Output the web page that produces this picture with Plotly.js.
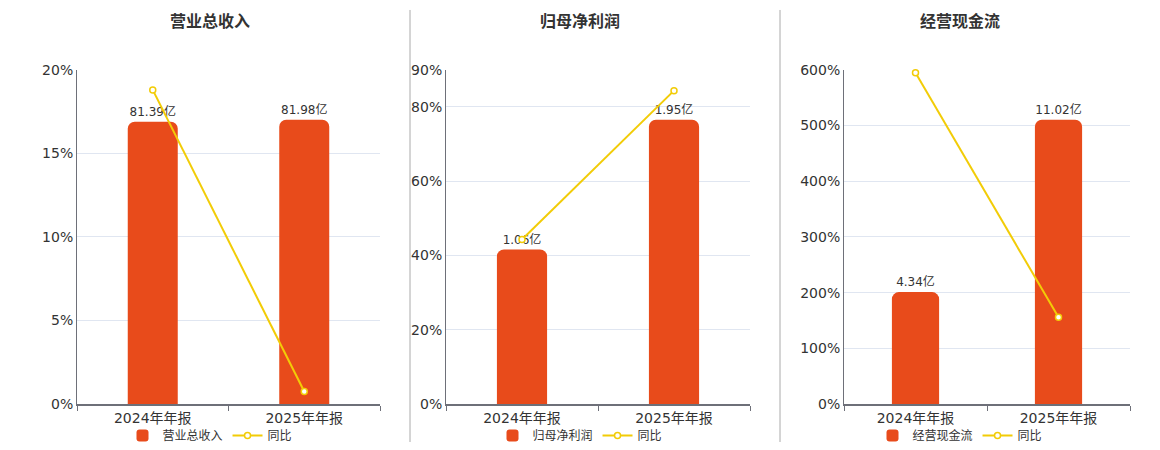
<!DOCTYPE html>
<html>
<head>
<meta charset="utf-8">
<script src="https://cdn.plot.ly/plotly-3.0.1.min.js"></script>
<style>
  html, body { margin: 0; padding: 0; background: #fff; }
  #chart { width: 1160px; height: 450px; }
</style>
</head>
<body>
<div id="chart"></div>
<script>
// categories and values
var periods = ['2024年年报', '2025年年报'];

var titles = ['营业总收入', '归母净利润', '经营现金流'];

var revenue = [81.39, 81.98];      // 亿
var netProfit = [1.06, 1.95];      // 亿
var cashFlow = [4.34, 11.02];      // 亿

var revenueYoY = [18.8, 0.75];     // %
var netProfitYoY = [44.3, 84.4];   // %
var cashFlowYoY = [594.6, 155.8];  // %

var pctTicks1 = [0, 5, 10, 15, 20];
var pctTicks2 = [0, 20, 40, 60, 80, 90];
var pctTicks3 = [0, 100, 200, 300, 400, 500, 600];

var barColor = '#e84b1b';
var lineColor = '#f2cc07';
var font = 'DejaVu Sans, Noto Sans CJK SC, sans-serif';

var W = 1160, H = 450;

var panels = [
  {bars: revenue, yoy: revenueYoY, ticks: pctTicks1, x: [77, 380], mid: 210},
  {bars: netProfit, yoy: netProfitYoY, ticks: pctTicks2, x: [446, 750], mid: 580},
  {bars: cashFlow, yoy: cashFlowYoY, ticks: pctTicks3, x: [844, 1130], mid: 960}
];

var data = [];
var layout = {
  width: W, height: H,
  margin: {l: 0, r: 0, t: 0, b: 0},
  paper_bgcolor: '#fff',
  plot_bgcolor: 'rgba(0,0,0,0)',
  font: {family: font, color: '#333'},
  showlegend: true,
  hovermode: false,
  annotations: [],
  shapes: []
};

var yDom = [45 / H, 380 / H];

panels.forEach(function (p, i) {
  var n = i + 1;
  var xa = n === 1 ? 'x' : 'x' + n;
  var yBar = 'y' + (2 * i + 1 === 1 ? '' : 2 * i + 1);
  var yPct = 'y' + (2 * i + 2);
  var legendId = n === 1 ? 'legend' : 'legend' + n;

  data.push({
    type: 'bar',
    name: titles[i],
    x: periods,
    y: p.bars,
    xaxis: xa,
    yaxis: yBar,
    legend: legendId,
    width: 0.33,
    marker: {color: barColor, cornerradius: 7},
    text: p.bars.map(function (v) { return v.toFixed(2) + '亿'; }),
    textposition: 'outside',
    textfont: {size: 12, color: '#333', family: font},
    cliponaxis: false
  });

  data.push({
    type: 'scatter',
    mode: 'lines+markers',
    name: '同比',
    x: periods,
    y: p.yoy,
    xaxis: xa,
    yaxis: yPct,
    legend: legendId,
    line: {color: lineColor, width: 2},
    marker: {size: 6, color: '#fff', line: {color: lineColor, width: 1.5}},
    cliponaxis: false
  });

  var maxBar = Math.max.apply(null, p.bars);
  var xKey = n === 1 ? 'xaxis' : 'xaxis' + n;
  var yBarKey = 'yaxis' + (2 * i + 1 === 1 ? '' : 2 * i + 1);
  var yPctKey = 'yaxis' + (2 * i + 2);

  layout[xKey] = {
    domain: [p.x[0] / W, p.x[1] / W],
    anchor: yBar,
    type: 'category',
    showgrid: false,
    showline: true,
    linecolor: '#6e7079',
    linewidth: 2,
    ticks: 'outside',
    tickson: 'boundaries',
    ticklen: 5,
    tickcolor: '#6e7079',
    tickfont: {size: 14, color: '#333'},
    fixedrange: true
  };

  layout[yBarKey] = {
    domain: yDom,
    anchor: xa,
    range: [0, maxBar * 335 / 285],
    visible: false,
    fixedrange: true
  };

  layout[yPctKey] = {
    overlaying: yBar,
    anchor: xa,
    side: 'left',
    range: [0, p.ticks[p.ticks.length - 1]],
    tickmode: 'array',
    tickvals: p.ticks,
    ticktext: p.ticks.map(function (t) { return t + '%'; }),
    showline: true,
    linecolor: '#6e7079',
    linewidth: 1,
    showgrid: true,
    gridcolor: '#e0e6f1',
    zeroline: false,
    ticks: '',
    tickfont: {size: 14, color: '#333'},
    fixedrange: true
  };

  layout[legendId] = {
    orientation: 'h',
    x: p.mid / W,
    xanchor: 'center',
    y: 14 / H,
    yanchor: 'middle',
    font: {size: 12, color: '#333'},
    bgcolor: 'rgba(0,0,0,0)',
    itemclick: false,
    itemdoubleclick: false
  };

  layout.annotations.push({
    xref: 'paper', yref: 'paper',
    x: p.mid / W, y: (H - 22) / H,
    xanchor: 'center', yanchor: 'middle',
    text: '<b>' + titles[i] + '</b>',
    showarrow: false,
    font: {size: 16, color: '#333'}
  });
});

// vertical separators between the panels
[410, 780].forEach(function (px) {
  layout.shapes.push({
    type: 'line', xref: 'paper', yref: 'paper',
    x0: px / W, x1: px / W, y0: 7 / H, y1: 440 / H,
    line: {color: '#aaaaaa', width: 1}
  });
});

Plotly.newPlot('chart', data, layout, {displayModeBar: false, staticPlot: true});
</script>
</body>
</html>
